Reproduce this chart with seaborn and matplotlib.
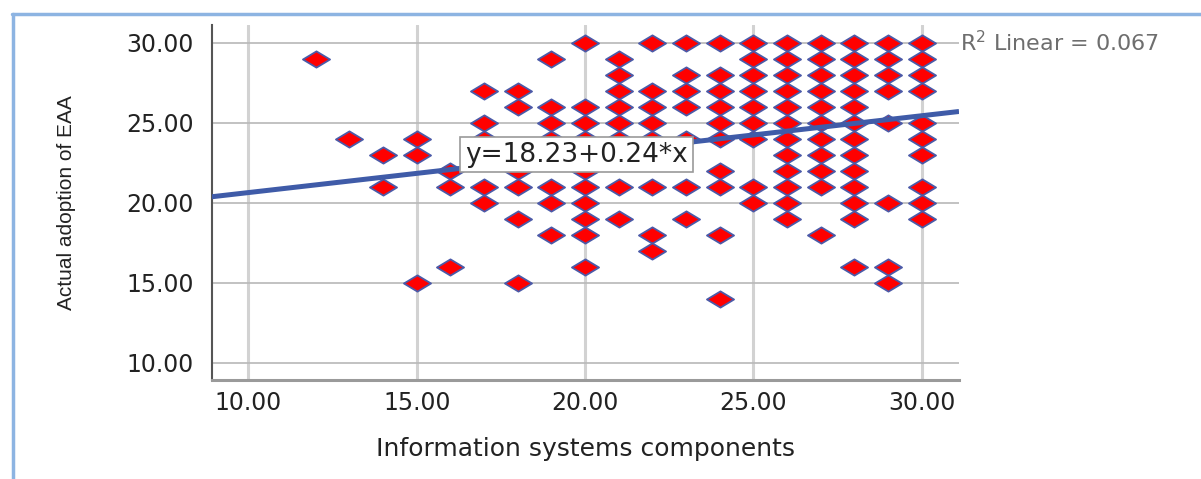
import numpy as np
import matplotlib
matplotlib.use("Agg")
import matplotlib.pyplot as plt
from matplotlib.path import Path
from matplotlib.lines import Line2D
import seaborn as sns

# ---------------- data ----------------
is_components = (
    [12] + [13] + [14] * 2 + [15] * 3 + [16] * 3 + [17] * 5 + [18] * 6 + [19] * 7
    + [20] * 10 + [21] * 8 + [22] * 8 + [23] * 7 + [24] * 10 + [25] * 9
    + [26] * 12 + [27] * 11 + [28] * 13 + [29] * 8 + [30] * 10
)
eaa_adoption = (
    [29]
    + [24]
    + [23, 21]
    + [24, 23, 15]
    + [22, 21, 16]
    + [27, 25, 24, 21, 20]
    + [27, 26, 22, 21, 19, 15]
    + [29, 26, 25, 24, 21, 20, 18]
    + [30, 26, 25, 24, 22, 21, 20, 19, 18, 16]
    + [29, 28, 27, 26, 25, 24, 21, 19]
    + [30, 27, 26, 25, 24, 21, 18, 17]
    + [30, 28, 27, 26, 24, 21, 19]
    + [30, 28, 27, 26, 25, 24, 22, 21, 18, 14]
    + [30, 29, 28, 27, 26, 25, 24, 21, 20]
    + [30, 29, 28, 27, 26, 25, 24, 23, 22, 21, 20, 19]
    + [30, 29, 28, 27, 26, 25, 24, 23, 22, 21, 18]
    + [30, 29, 28, 27, 26, 25, 24, 23, 22, 21, 20, 19, 16]
    + [30, 29, 28, 27, 25, 20, 16, 15]
    + [30, 29, 28, 27, 25, 24, 23, 21, 20, 19]
)
fit_intercept = 18.23
fit_slope = 0.24
r_squared = 0.067
x_ticks = [10, 15, 20, 25, 30]
y_ticks = [10, 15, 20, 25, 30]
x_label = "Information systems components"
y_label = "Actual adoption of EAA"

# ---------------- figure ----------------
sns.set_style("white")
plt.rcParams["font.family"] = ["DejaVu Sans"]

W, H = 1201, 479
fig = plt.figure(figsize=(W / 100, H / 100), dpi=100)
left_px, right_px, top_px, bot_px = 211.7, 959, 25, 380
ax = fig.add_axes([left_px / W, 1 - bot_px / H, (right_px - left_px) / W, (bot_px - top_px) / H])

ax.set_xlim(8.91, 31.11)
ax.set_ylim(8.92, 31.1)

# grid
ax.set_axisbelow(True)
ax.xaxis.grid(True, color="#d2d2d2", lw=2.2)
ax.yaxis.grid(True, color="#b8b8b8", lw=1.2)

diamond = Path([(-1, 0), (0, 0.6), (1, 0), (0, -0.6), (-1, 0)],
               [Path.MOVETO, Path.LINETO, Path.LINETO, Path.LINETO, Path.CLOSEPOLY])

sns.scatterplot(x=is_components, y=eaa_adoption, marker=diamond, s=380,
                color="#ff0000", edgecolor="#4b5aa8", linewidth=1.3,
                ax=ax, zorder=3, legend=False)

xs = np.array(ax.get_xlim())
ax.plot(xs, fit_intercept + fit_slope * xs, color="#3f5ba8", lw=3.6, zorder=4,
        solid_capstyle="butt")
ax.set_xlim(8.91, 31.11)

# equation box
ax.text(16.44, 23.0, f"y={fit_intercept:.2f}+{fit_slope:.2f}*x", fontsize=19,
        ha="left", va="center", color="#222222", zorder=6,
        bbox=dict(boxstyle="square,pad=0.18", fc="white", ec="#9a9a9a", lw=1.2))

# R^2 label
ax.text(1.002, 30, f"R$^2$ Linear = {r_squared:.3f}", transform=ax.get_yaxis_transform(),
        ha="left", va="center", color="#6e6e6e", fontsize=16, clip_on=False)

# ticks
ax.set_xticks(x_ticks)
ax.set_xticklabels([f"{v:.2f}" for v in x_ticks])
ax.set_yticks(y_ticks)
ax.set_yticklabels([f"{v:.2f}" for v in y_ticks])
ax.tick_params(axis="x", length=0, pad=8, labelsize=17, labelcolor="#222222")
ax.tick_params(axis="y", length=0, pad=13, labelsize=17, labelcolor="#222222")

# axis labels
ax.set_xlabel(x_label, fontsize=18, color="#222222", va="center")
ax.xaxis.set_label_coords(0.5, (bot_px - 449) / (bot_px - top_px))
ax.set_ylabel(y_label, fontsize=15, color="#222222", va="center",
              family=["Liberation Sans", "DejaVu Sans"])
ax.yaxis.set_label_coords((66 - left_px) / (right_px - left_px), 0.5)

# spines
sns.despine(ax=ax, top=True, right=True)
ax.spines["left"].set_color("#555555")
ax.spines["left"].set_linewidth(1.5)
ax.spines["bottom"].set_color("#9a9a9a")
ax.spines["bottom"].set_linewidth(2.2)

# window frame
fig.add_artist(Line2D([12 / W, 1], [1 - 13.5 / H] * 2, transform=fig.transFigure,
                      color="#8db4e2", lw=2.5))
fig.add_artist(Line2D([12.5 / W] * 2, [0, 1 - 13.5 / H], transform=fig.transFigure,
                      color="#8db4e2", lw=2.5))

fig.savefig("out.png", dpi=100, facecolor="white")
